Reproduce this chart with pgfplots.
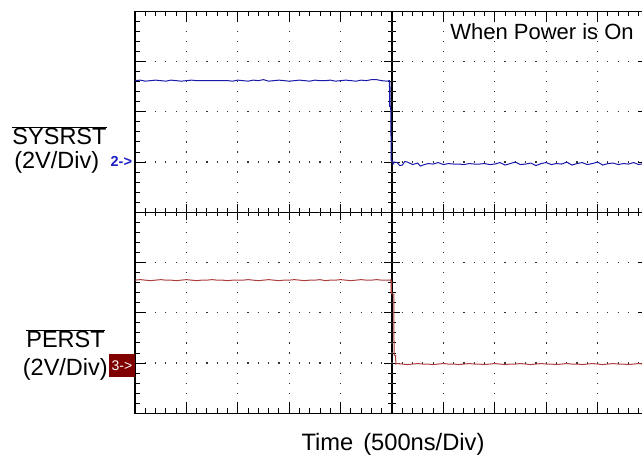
\documentclass[border=0pt]{standalone}
\usepackage{pgfplots}
\pgfplotsset{compat=1.18}
\usepackage{fontspec}
\setmainfont{Liberation Sans}
\definecolor{tblue}{RGB}{25,25,170}
\definecolor{mblue}{RGB}{30,30,200}
\definecolor{tred}{RGB}{172,62,62}
\definecolor{boxred}{RGB}{128,0,0}
\definecolor{dotgray}{RGB}{50,50,50}
\begin{document}
\begin{tikzpicture}[x=1pt,y=1pt]
\path[use as bounding box] (0,0) rectangle (642,455);
\begin{axis}[at={(135pt,41.7pt)}, anchor=south west, scale only axis,
  width=514pt, height=402pt,
  xmin=-5, xmax=5, ymin=-4, ymax=4,
  axis lines=center,
  axis line style={-, line width=1.2pt, black},
  xtick={-5,...,5}, ytick={-4,...,4}, minor tick num=4,
  xticklabels={}, yticklabels={},
  tick align=center, major tick length=16pt, minor tick length=8pt,
  tick style={black, line width=1pt},
]
\addplot[draw=none] coordinates {(0,0)};
\end{axis}
\begin{axis}[at={(135pt,41.7pt)}, anchor=south west, scale only axis,
  width=514pt, height=402pt,
  xmin=0, xmax=10, ymin=0, ymax=8,
  axis line style={line width=1.2pt, black},
  xtick={0,...,10}, ytick={0,...,8}, minor tick num=4,
  xticklabels={}, yticklabels={},
  tick align=inside, major tick length=11pt, minor tick length=5pt,
  tick style={black, line width=1pt},
  grid=major,
  x grid style={dotgray, line width=1.2pt, dash pattern=on 1.2pt off 8.85pt, dash phase=0.6pt},
  y grid style={dotgray, line width=1.2pt, dash pattern=on 1.2pt off 9.08pt, dash phase=0.6pt},
]
% SYSRST (channel 2)
\addplot[tblue, line width=1pt] coordinates {
(0.0,6.62)(0.1,6.63)(0.2,6.61)(0.3,6.62)(0.4,6.63)(0.5,6.62)(0.6,6.61)(0.7,6.63)(0.8,6.62)(0.9,6.61)
(1.0,6.62)(1.1,6.63)(1.2,6.62)(1.3,6.62)(1.4,6.62)(1.5,6.62)(1.6,6.62)(1.7,6.62)(1.8,6.62)(1.9,6.61)
(2.0,6.63)(2.1,6.62)(2.2,6.61)(2.3,6.63)(2.4,6.62)(2.5,6.64)(2.6,6.61)(2.7,6.62)(2.8,6.63)(2.9,6.62)
(3.0,6.61)(3.1,6.62)(3.2,6.63)(3.3,6.62)(3.4,6.61)(3.5,6.63)(3.6,6.62)(3.7,6.62)(3.8,6.63)(3.9,6.61)
(4.0,6.62)(4.1,6.63)(4.2,6.62)(4.3,6.61)(4.4,6.63)(4.5,6.62)(4.6,6.64)(4.7,6.64)(4.8,6.62)(4.9,6.61)
(4.95,6.62)(4.955,6.10)(4.96,6.60)(4.965,6.12)(4.975,6.10)(4.985,5.03)(5.015,5.02)(5.02,4.96)
(5.05,5.00)(5.1,4.99)(5.15,4.93)(5.2,4.94)(5.25,5.01)(5.3,5.00)(5.4,4.95)(5.5,4.98)(5.55,4.92)(5.6,4.94)(5.7,4.97)(5.8,4.96)(5.9,4.99)
(6.0,4.95)(6.1,4.97)(6.2,4.96)(6.3,4.96)(6.4,4.95)(6.5,4.97)(6.6,4.96)(6.7,4.96)(6.8,4.97)(6.9,4.95)
(7.0,4.96)(7.1,4.99)(7.2,4.94)(7.3,4.97)(7.4,5.00)(7.5,4.95)(7.6,4.96)(7.7,4.98)(7.8,4.93)(7.9,4.97)
(8.0,4.99)(8.1,4.95)(8.2,4.97)(8.3,4.96)(8.4,5.00)(8.5,4.94)(8.6,4.97)(8.7,4.99)(8.8,4.95)(8.9,4.97)
(9.0,5.00)(9.1,4.94)(9.2,4.97)(9.3,4.98)(9.4,4.95)(9.5,4.97)(9.6,4.96)(9.7,4.99)(9.8,4.95)(9.9,4.97)(10.0,4.96)
};
% PERST (channel 3)
\addplot[tred, line width=1pt] coordinates {
(0.0,2.65)(0.1,2.66)(0.2,2.65)(0.3,2.64)(0.4,2.65)(0.5,2.66)(0.6,2.65)(0.7,2.65)(0.8,2.64)(0.9,2.65)
(1.0,2.66)(1.1,2.65)(1.2,2.64)(1.3,2.65)(1.4,2.65)(1.5,2.66)(1.6,2.65)(1.7,2.65)(1.8,2.64)(1.9,2.65)
(2.0,2.65)(2.1,2.65)(2.2,2.66)(2.3,2.65)(2.4,2.64)(2.5,2.65)(2.6,2.66)(2.7,2.65)(2.8,2.64)(2.9,2.65)
(3.0,2.65)(3.1,2.66)(3.2,2.65)(3.3,2.64)(3.4,2.65)(3.5,2.65)(3.6,2.66)(3.7,2.64)(3.8,2.65)(3.9,2.65)
(4.0,2.66)(4.1,2.65)(4.2,2.64)(4.3,2.65)(4.4,2.66)(4.5,2.65)(4.6,2.65)(4.7,2.66)(4.8,2.65)(4.9,2.65)
(4.97,2.65)(4.98,2.66)(4.983,2.37)(4.987,2.64)(4.99,2.38)(5.035,2.37)(5.04,1.16)(5.07,1.15)(5.075,0.98)
(5.1,0.99)(5.2,0.98)(5.3,0.97)(5.4,0.98)(5.5,0.99)(5.6,0.98)(5.7,0.98)(5.8,0.97)(5.9,0.98)
(6.0,0.99)(6.1,0.98)(6.2,0.98)(6.3,0.97)(6.4,0.98)(6.5,0.99)(6.6,0.98)(6.7,0.98)(6.8,0.97)(6.9,0.98)
(7.0,0.99)(7.1,0.98)(7.2,0.97)(7.3,0.98)(7.4,0.98)(7.5,0.99)(7.6,0.98)(7.7,0.97)(7.8,0.98)(7.9,0.99)
(8.0,0.98)(8.1,0.98)(8.2,0.97)(8.3,0.98)(8.4,0.99)(8.5,0.98)(8.6,0.98)(8.7,0.97)(8.8,0.98)(8.9,0.99)
(9.0,0.98)(9.1,0.97)(9.2,0.98)(9.3,0.99)(9.4,0.98)(9.5,0.98)(9.6,0.97)(9.7,0.98)(9.8,0.99)(9.9,0.98)(10.0,0.98)
};
\end{axis}
% labels
\node[anchor=base, font=\fontsize{23.5}{28}\selectfont] at (59.5,310) {$\overline{\mbox{SYSRST}}$};
\node[anchor=base, font=\fontsize{23.5}{28}\selectfont] at (56.7,286) {(2V/Div)};
\node[font=\fontsize{14.5}{17}\selectfont\bfseries, text=mblue, inner sep=0pt] at (121.3,293.5) {2->};
\node[anchor=base, font=\fontsize{23.5}{28}\selectfont] at (65.5,107.3) {$\overline{\mbox{PERST}}$};
\node[anchor=base, font=\fontsize{23.5}{28}\selectfont] at (65.3,79) {(2V/Div)};
\node[fill=boxred, text=white, minimum width=26pt, minimum height=22.4pt, inner sep=0pt, font=\fontsize{14}{16}\selectfont] at (122,89.5) {3->};
\node[anchor=base, font=\fontsize{23.7}{28}\selectfont] at (393,5) {Time\hspace{0.42em}(500ns/Div)};
\node[anchor=base, font=\fontsize{22}{26}\selectfont] at (542,415.7) {When Power is On};
\end{tikzpicture}
\end{document}
